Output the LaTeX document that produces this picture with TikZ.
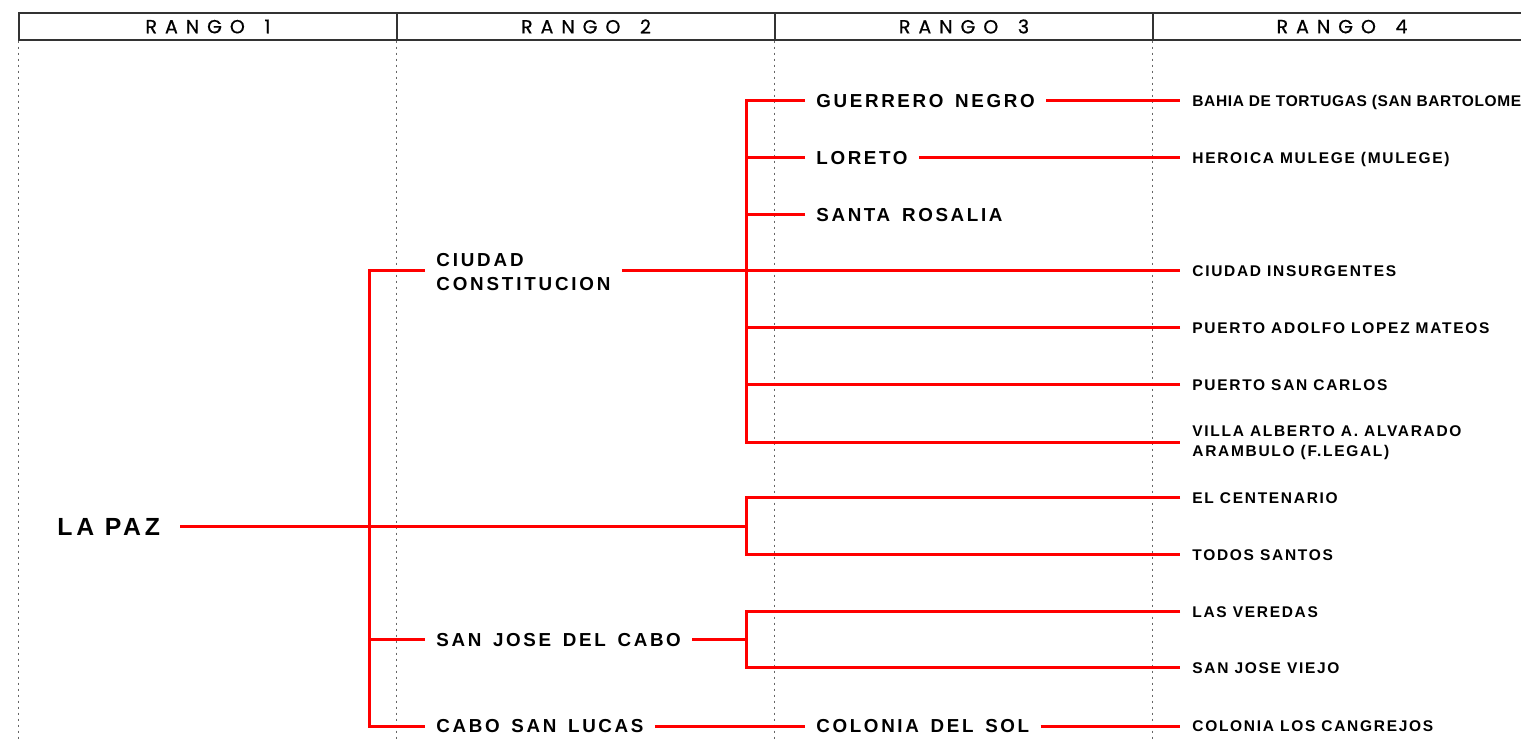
\documentclass[tikz,border=0pt]{standalone}
\usepackage{fontspec}
\setmainfont{Liberation Sans}
\newfontfamily\rangofont[LetterSpace=42,WordSpace=1.5,FakeBold=0.6]{Poppins}
\newfontfamily\cityfont[LetterSpace=14,WordSpace=1.5]{Liberation Sans}
\newfontfamily\capfont[LetterSpace=15]{Liberation Sans}
\newfontfamily\locfont[LetterSpace=11]{Liberation Sans}
\newfontfamily\loctight[LetterSpace=4]{Liberation Sans}

\tikzset{
  link/.style={draw=red, line width=1.5pt},
  guide/.style={draw=black!60, line width=0.4pt, dash pattern=on 1pt off 2pt},
  rango/.style={draw=black!80, line width=0.7pt, minimum width=189pt, minimum height=13.5pt, inner sep=0pt, font=\rangofont\fontsize{9.5}{10}\selectfont},
  cab/.style={anchor=west, inner xsep=10pt, inner ysep=0pt, text height=8.85pt, text depth=0pt, font=\capfont\bfseries\fontsize{12.4}{14}\selectfont},
  city/.style={anchor=west, inner xsep=5.5pt, inner ysep=0pt, text height=6.7pt, text depth=0pt, font=\cityfont\bfseries\fontsize{9.4}{12}\selectfont},
  city2/.style={anchor=west, inner xsep=5.5pt, inner ysep=0pt, align=left, font=\capfont\bfseries\fontsize{9.4}{12}\selectfont},
  loc/.style={anchor=west, inner xsep=6pt, inner ysep=0pt, text height=5.5pt, text depth=0pt, font=\locfont\bfseries\fontsize{7.75}{10}\selectfont},
  loc2/.style={anchor=west, inner xsep=6pt, inner ysep=0pt, align=left, font=\locfont\bfseries\fontsize{7.75}{10}\selectfont},
}

\begin{document}
\begin{tikzpicture}[x=0.5pt, y=-0.5pt]
\useasboundingbox (0,0) rectangle (1521,742);

%% rangos
    \node[rango] (h1) at (208,26.5) {RANGO 1};
    \node[rango] (h2) at (586,26.5) {RANGO 2};
    \node[rango] (h3) at (964,26.5) {RANGO 3};
    \node[rango] (h4) at (1342,26.5) {RANGO 4};
    \coordinate (bot) at (0,742);
    \draw[guide] (h1.south west) -- (h1.south west |- bot);
    \draw[guide] (h2.south west) -- (h2.south west |- bot);
    \draw[guide] (h3.south west) -- (h3.south west |- bot);
    \draw[guide] (h4.south west) -- (h4.south west |- bot);

%% rango 1 y 2
    \node[cab] (lapaz) at (37,527) {LA PAZ};
    \node[city2] (cdc) at (425,272) {CIUDAD\\CONSTITUCION};
    \node[city] (sjc) at (425,640) {SAN JOSE DEL CABO};
    \node[city] (csl) at (425,726) {CABO SAN LUCAS};

%% rango 3
    \node[city] (gn) at (805,101) {GUERRERO NEGRO};
    \node[city] (lor) at (805,158) {LORETO};
    \node[city] (sr) at (805,215) {SANTA ROSALIA};
    \node[city] (cds) at (805,726) {COLONIA DEL SOL};

%% rango 4
    \node[loc, font=\loctight\bfseries\fontsize{7.75}{10}\selectfont] (bt) at (1180,101) {BAHIA DE TORTUGAS (SAN BARTOLOME)};
    \node[loc] (hm) at (1180,158) {HEROICA MULEGE (MULEGE)};
    \node[loc] (ci) at (1180,271) {CIUDAD INSURGENTES};
    \node[loc] (palm) at (1180,328) {PUERTO ADOLFO LOPEZ MATEOS};
    \node[loc] (psc) at (1180,385) {PUERTO SAN CARLOS};
    \node[loc2] (vaa) at (1180,443) {VILLA ALBERTO A. ALVARADO\\ARAMBULO (F.LEGAL)};
    \node[loc] (ec) at (1180,498) {EL CENTENARIO};
    \node[loc] (ts) at (1180,555) {TODOS SANTOS};
    \node[loc] (lv) at (1180,612) {LAS VEREDAS};
    \node[loc] (sjv) at (1180,668) {SAN JOSE VIEJO};
    \node[loc] (clc) at (1180,726) {COLONIA LOS CANGREJOS};

%% ramas
    \coordinate (t1) at (369,527);
    \coordinate (t2) at (746,271);
    \coordinate (t3) at (746,527);
    \coordinate (t4) at (746,640);

    \draw[link] (lapaz.east) -- (t3);
    \draw[link] (cdc.west |- ci.west) -| (t1) |- (csl.west);
    \draw[link] (t1) |- (sjc.west);

    \draw[link] (cdc.east |- ci.west) -- (ci.west);
    \draw[link] (gn.west) -| (t2) |- (vaa.west |- t2);
    \draw[link] (t2) |- (vaa.west);
    \draw[link] (lor.west) -- (lor.west -| t2);
    \draw[link] (sr.west) -- (sr.west -| t2);
    \draw[link] (palm.west) -- (palm.west -| t2);
    \draw[link] (psc.west) -- (psc.west -| t2);
    \draw[link] (gn.east) -- (bt.west);
    \draw[link] (lor.east) -- (hm.west);

    \draw[link] (ec.west) -| (t3) |- (ts.west);

    \draw[link] (sjc.east) -- (t4);
    \draw[link] (lv.west) -| (t4) |- (sjv.west);

    \draw[link] (csl.east) -- (cds.west);
    \draw[link] (cds.east) -- (clc.west);

\end{tikzpicture}
\end{document}
